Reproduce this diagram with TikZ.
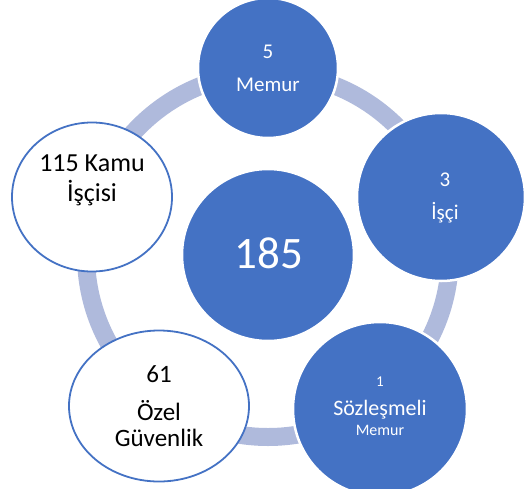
\documentclass[tikz,border=0pt]{standalone}
\usepackage{fontspec}
\setmainfont{Carlito}
\usetikzlibrary{shapes.geometric}
\definecolor{ofblue}{HTML}{4472C4}
\definecolor{ringblue}{HTML}{AFBADC}
\tikzset{
  bluedot/.style={circle,fill=ofblue,draw=white,line width=2.5pt,inner sep=0pt,minimum size=#1},
  whitedot/.style={ellipse,fill=white,draw=ofblue,line width=1.8pt,inner sep=0pt},
  wtxt/.style={text=white,inner sep=0pt},
  btxt/.style={text=black,inner sep=0pt},
}
\newcommand{\fsz}[1]{\fontsize{#1}{#1}\selectfont}
\begin{document}
\begin{tikzpicture}[x=1pt,y=-1pt]
  \useasboundingbox (0,0) rectangle (525,488);
  \coordinate (hub) at (268,255);
  \draw[ringblue,line width=18pt] (hub) circle (182pt);

  \node[bluedot=172pt] (total) at (hub) {};
  \foreach \n/\x/\y/\d in {memur/268/68/140,isci/441/197/168,sozlesmeli/380/409/174} {
    \node[bluedot=\d pt] (\n) at (\x,\y) {};
  }
  \node[whitedot,minimum width=180pt,minimum height=151pt] (ozel) at (159,406) {};
  \node[whitedot,minimum width=160pt,minimum height=149pt] (kamu) at (92,197) {};

  % texts
  \node[wtxt,font=\fsz{45}] (t185) at (269,253) {185};
  \node[wtxt,font=\fsz{21}] (tmemurn) at (268,52) {5};
  \node[wtxt,font=\fsz{21}] (tmemur) at (268,85) {Memur};
  \node[wtxt,font=\fsz{21}] (tiscin) at (445,180) {3};
  \node[wtxt,font=\fsz{21}] (tisci) at (445,213) {İşçi};
  \node[wtxt,font=\fsz{15}] (tsozn) at (380,382) {1};
  \node[wtxt,font=\fsz{22}] (tsoz) at (380,410) {Sözleşmeli};
  \node[wtxt,font=\fsz{16}] (tsozm) at (380,430) {Memur};
  \node[btxt,font=\fsz{26}] (tkamu) at (92,163) {115 Kamu};
  \node[btxt,font=\fsz{26}] (tkamui) at (92,193) {İşçisi};
  \node[btxt,font=\fsz{25}] (tozeln) at (159,374) {61};
  \node[btxt,font=\fsz{25}] (tozel) at (159,411) {Özel};
  \node[btxt,font=\fsz{25}] (tozelg) at (159,438) {Güvenlik};
\end{tikzpicture}
\end{document}
